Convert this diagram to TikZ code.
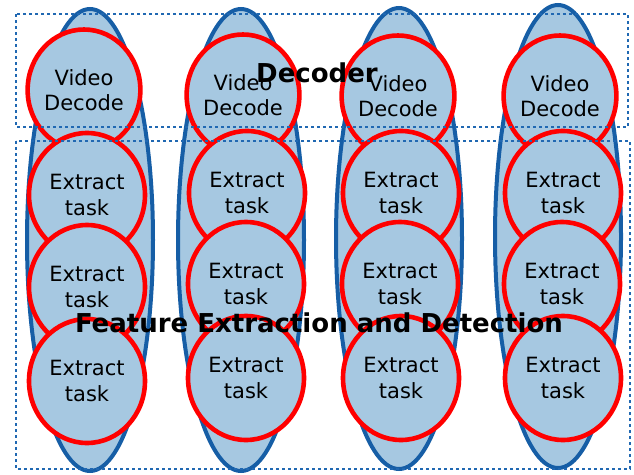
\documentclass[tikz,border=0pt]{standalone}
\usepackage{fontspec}
\setmainfont{DejaVu Sans}
\usetikzlibrary{shapes.geometric}
\definecolor{lane}{RGB}{166,200,225}
\definecolor{laneedge}{RGB}{22,94,166}
\definecolor{taskred}{RGB}{255,0,0}
\definecolor{groupdot}{RGB}{32,104,178}
\tikzset{
  lanebox/.style={ellipse, draw=laneedge, fill=lane, line width=4pt,
    minimum width=126pt, inner sep=0pt},
  taskbox/.style={ellipse, draw=taskred, fill=lane, line width=4.6pt,
    minimum width=116pt, minimum height=124pt, inner sep=0pt,
    align=center, font=\fontsize{21}{25.5}\selectfont},
  decodebox/.style={taskbox, minimum width=109pt, minimum height=121pt},
  groupframe/.style={draw=groupdot, line width=2.8pt, dash pattern=on 2.8pt off 3.2pt},
  grouplabel/.style={font=\fontsize{26}{30}\selectfont\bfseries, inner sep=0pt}
}
\begin{document}
\begin{tikzpicture}[x=1pt, y=-1pt]
\useasboundingbox (0,0) rectangle (634,474);

% four processing lanes
\node[lanebox, minimum height=462pt] (lane1) at (90,240) {};
\node[lanebox, minimum height=462pt] (lane2) at (241,240) {};
\node[lanebox, minimum height=461pt] (lane3) at (399,238.5) {};
\node[lanebox, minimum height=463pt] (lane4) at (558,236.5) {};

% lane 1
\node[decodebox] (vd1) at (84,90) {Video\\Decode};
\node[taskbox] (e11) at (87,195) {Extract\\task};
\node[taskbox] (e12) at (87,287) {Extract\\task};
\node[taskbox] (e13) at (87,381) {Extract\\task};

% lane 2
\node[decodebox] (vd2) at (243,95) {Video\\Decode};
\node[taskbox] (e21) at (247,193) {Extract\\task};
\node[taskbox] (e22) at (246,284) {Extract\\task};
\node[taskbox] (e23) at (246,378) {Extract\\task};

% lane 3
\node[decodebox] (vd3) at (398,96) {Video\\Decode};
\node[taskbox] (e31) at (401,193) {Extract\\task};
\node[taskbox] (e32) at (400,284) {Extract\\task};
\node[taskbox] (e33) at (401,378) {Extract\\task};

% lane 4
\node[decodebox] (vd4) at (560,96) {Video\\Decode};
\node[taskbox] (e41) at (563,193) {Extract\\task};
\node[taskbox] (e42) at (562,284) {Extract\\task};
\node[taskbox] (e43) at (563,378) {Extract\\task};

% stage groups
\draw[groupframe] (16,14) rectangle (628,127);
\draw[groupframe] (16,141) rectangle (630,469);
\node[grouplabel] (declabel) at (317,73) {Decoder};
\node[grouplabel] (featlabel) at (319,323) {Feature Extraction and Detection};
\end{tikzpicture}
\end{document}
